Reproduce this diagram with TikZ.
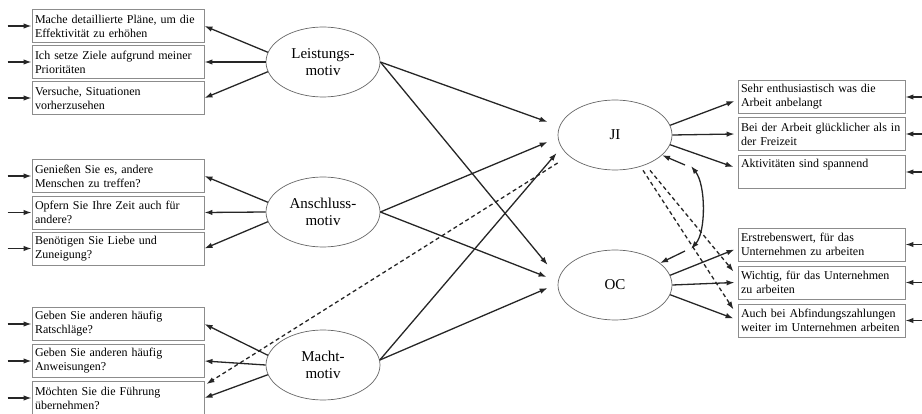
\documentclass[tikz,border=0pt]{standalone}
\usepackage{fontspec}
\setmainfont{Liberation Serif}
\usetikzlibrary{arrows.meta,shapes.geometric}

\begin{document}
\begin{tikzpicture}[x=1pt, y=-1pt,
  box/.style = {shape=rectangle, draw=black!45, line width=0.9pt,
    align=left, text width=#1, inner xsep=3pt, inner ysep=0pt,
    minimum height=33pt, font=\fontsize{12}{14}\selectfont},
  box/.default = 166pt,
  motiv/.style = {shape=ellipse, draw=black!60, line width=0.7pt,
    minimum width=114pt, minimum height=70pt, inner sep=0pt,
    align=center, font=\fontsize{15}{17}\selectfont},
  arr/.style = {draw=black!85, line width=1.3pt, -{Latex[length=8pt,width=5.5pt]}},
  dasharr/.style = {arr, dash pattern=on 4pt off 3pt}]
  \useasboundingbox (0,0) rectangle (922,414);

  \node[motiv] (L) at (323,62) {Leistungs-\\motiv};
  \node[motiv] (A) at (323,212) {Anschluss-\\motiv};
  \node[motiv] (M) at (323,365) {Macht-\\motiv};
  \node[motiv] (JI) at (615,135) {JI};
  \node[motiv] (OC) at (615,285) {OC};

  \node[box] (l1) at (118,26) {Mache detaillierte Pläne, um die\\Effektivität zu erhöhen};
  \node[box] (l2) at (118,62) {Ich setze Ziele aufgrund meiner\\Prioritäten};
  \node[box] (l3) at (118,98) {Versuche, Situationen\\vorherzusehen};
  \node[box] (l4) at (118,176) {Genießen Sie es, andere\\Menschen zu treffen?};
  \node[box] (l5) at (118,212.5) {Opfern Sie Ihre Zeit auch für\\andere?};
  \node[box] (l6) at (118,248.5) {Benötigen Sie Liebe und\\Zuneigung?};
  \node[box] (l7) at (118,324) {Geben Sie anderen häufig\\Ratschläge?};
  \node[box] (l8) at (118,361) {Geben Sie anderen häufig\\Anweisungen?};
  \node[box] (l9) at (118,398) {Möchten Sie die Führung\\übernehmen?};

  \node[box=161pt] (r1) at (821.5,97) {Sehr enthusiastisch was die\\Arbeit anbelangt};
  \node[box=161pt] (r2) at (821.5,134) {Bei der Arbeit glücklicher als in\\der Freizeit};
  \node[box=161pt] (r3) at (821.5,172) {Aktivitäten sind spannend\\\strut};
  \node[box=161pt] (r4) at (821.5,244.5) {Erstrebenswert, für das\\Unternehmen zu arbeiten};
  \node[box=161pt] (r5) at (821.5,282.5) {Wichtig, für das Unternehmen\\zu arbeiten};
  \node[box=161pt] (r6) at (821.5,320.5) {Auch bei Abfindungszahlungen\\weiter im Unternehmen arbeiten};

  \draw[arr] ([xshift=-24pt]l1.west) -- (l1.west);
  \draw[arr] ([xshift=-24pt]l2.west) -- (l2.west);
  \draw[arr] ([xshift=-24pt]l3.west) -- (l3.west);
  \draw[arr] ([xshift=-24pt]l4.west) -- (l4.west);
  \draw[arr] ([xshift=-24pt]l5.west) -- (l5.west);
  \draw[arr] ([xshift=-24pt]l6.west) -- (l6.west);
  \draw[arr] ([xshift=-24pt]l7.west) -- (l7.west);
  \draw[arr] ([xshift=-24pt]l8.west) -- (l8.west);
  \draw[arr] ([xshift=-24pt]l9.west) -- (l9.west);
  \draw[arr] ([xshift=17pt]r1.east) -- (r1.east);
  \draw[arr] ([xshift=17pt]r2.east) -- (r2.east);
  \draw[arr] ([xshift=17pt]r3.east) -- (r3.east);
  \draw[arr] ([xshift=17pt]r4.east) -- (r4.east);
  \draw[arr] ([xshift=17pt]r5.east) -- (r5.east);
  \draw[arr] ([xshift=17pt]r6.east) -- (r6.east);

  \draw[arr] (L.170) -- (l1.east);
  \draw[arr] (L.west) -- (l2.east);
  \draw[arr] (L.190) -- (l3.east);
  \draw[arr] (A.170) -- (l4.east);
  \draw[arr] (A.west) -- (l5.east);
  \draw[arr] (A.190) -- (l6.east);
  \draw[arr] (M.170) -- (l7.east);
  \draw[arr] (M.west) -- (l8.east);
  \draw[arr] (M.190) -- (l9.east);

  \draw[arr] (L.east) -- ([shift={(-10,-13)}]JI.west);
  \draw[arr] (L.east) -- ([shift={(-10,-20)}]OC.west);
  \draw[arr] (A.east) -- ([shift={(-10,7)}]JI.west);
  \draw[arr] (A.east) -- ([shift={(-11,-8)}]OC.west);
  \draw[arr] (M.5) -- ([shift={(-1,18)}]JI.west);
  \draw[arr] (M.5) -- ([shift={(-10,3)}]OC.west);
  \draw[dasharr] ([shift={(0,28)}]JI.west) -- ([shift={(2,3)}]l9.north east);

  \draw[arr] (JI.10) -- ([shift={(-3,4)}]r1.west);
  \draw[arr] (JI.east) -- ([xshift=-3pt]r2.west);
  \draw[arr] (JI.350) -- ([shift={(-4,-5)}]r3.west);
  \draw[arr] (OC.10) -- ([shift={(-3,5)}]r4.west);
  \draw[arr] (OC.east) -- ([xshift=-3pt]r5.west);
  \draw[arr] (OC.350) -- ([shift={(-4,-2)}]r6.west);
  \draw[dasharr] ([xshift=35pt]JI.south) -- ([shift={(-4,6)}]r5.north west);
  \draw[dasharr] ([xshift=28pt]JI.south) -- ([shift={(-4,6)}]r6.north west);

  \coordinate (c1) at (691,166);
  \coordinate (c2) at (691,249);
  \coordinate (d1) at (685,165);
  \coordinate (d2) at (685,251);
  \draw[arr, {Latex[length=8pt,width=5.5pt]}-{Latex[length=8pt,width=5.5pt]}]
    (c1) .. controls (706,185) and (706,232) .. (c2);
  \draw[arr] (d1) -- (JI);
  \draw[arr] (d2) -- (OC);
\end{tikzpicture}
\end{document}
